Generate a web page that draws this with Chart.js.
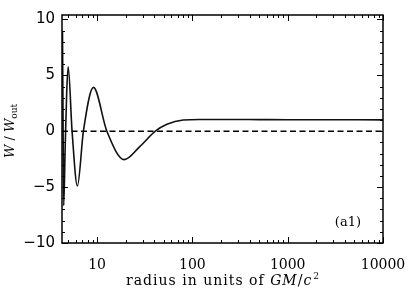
<!DOCTYPE html>
<html>
<head>
<meta charset="utf-8">
<script src="https://cdn.jsdelivr.net/npm/chart.js@4/dist/chart.umd.min.js"></script>
<style>
  html, body { margin: 0; padding: 0; background: #fff; }
  #wrap { width: 408px; height: 291px; }
</style>
</head>
<body>
<div id="wrap"><canvas id="myChart" width="408" height="291"></canvas></div>
<script>
// values
var radius = [4.33, 4.39, 4.46, 4.62, 4.80, 4.97, 5.46, 6.21, 7.18, 9.15, 12.66, 19.3, 28, 40.8, 54, 80, 120, 200, 500, 1000, 10000];
var wRatio = [9.0, 1.0, -6.65, -1.5, 3.6, 5.77, 0, -4.9, 0, 3.92, 0, -2.54, -1.38, 0, 0.62, 1.0, 1.05, 1.05, 1.04, 1.03, 1.02];
var zeroX = [4.28, 10000];
var zeroY = [0, 0];
var xTickLabels = [10, 100, 1000, 10000];
var yTickLabels = [-10, -5, 0, 5, 10];

var xMin = 4.28, xMax = 10000;
var yMin = -10, yMax = 10.4;

var curve = radius.map(function (r, i) { return { x: r, y: wRatio[i] }; });
var zero = zeroX.map(function (r, i) { return { x: r, y: zeroY[i] }; });

// frame and inward ticks, idl style
var framePlugin = {
    id: 'frame',
    afterDraw: function (chart) {
        var c = chart.ctx, a = chart.chartArea;
        var xs = chart.scales.x, ys = chart.scales.y;
        c.save();
        c.strokeStyle = '#000';
        c.lineWidth = 1.5;
        c.strokeRect(a.left, a.top, a.right - a.left, a.bottom - a.top);
        c.lineWidth = 1;
        c.beginPath();
        for (var k = 0; k <= 4; k++) {
            for (var m = 1; m <= 9; m++) {
                var v = m * Math.pow(10, k);
                if (v < xMin || v > xMax) continue;
                var px = Math.round(xs.getPixelForValue(v)) + 0.5;
                var len = m == 1 ? 6 : 3;
                c.moveTo(px, a.bottom); c.lineTo(px, a.bottom - len);
                c.moveTo(px, a.top); c.lineTo(px, a.top + len);
            }
        }
        for (var y = -10; y <= 10; y++) {
            var py = Math.round(ys.getPixelForValue(y)) + 0.5;
            var l2 = (y % 5 == 0) ? 6 : 3;
            c.moveTo(a.left, py); c.lineTo(a.left + l2, py);
            c.moveTo(a.right, py); c.lineTo(a.right - l2, py);
        }
        c.stroke();

        // x title, stretched to the width seen in the picture
        c.fillStyle = '#000';
        c.textBaseline = 'alphabetic';
        var parts = [
            { t: 'radius in units of ', f: '14px "DejaVu Serif"' },
            { t: 'GM', f: 'italic 14px "DejaVu Serif"' },
            { t: '/', f: '14px "DejaVu Serif"' },
            { t: 'c', f: 'italic 14px "DejaVu Serif"' }
        ];
        var total = 0, nch = 0;
        parts.forEach(function (p) { c.font = p.f; p.w = c.measureText(p.t).width; total += p.w; nch += p.t.length; });
        c.font = '9px "DejaVu Serif"';
        var supW = c.measureText('2').width;
        var ls = Math.max(0, Math.min(1.5, (193 - total - supW - 1) / nch));
        c.letterSpacing = ls + 'px';
        total = 0;
        parts.forEach(function (p) { c.font = p.f; p.w = c.measureText(p.t).width; total += p.w; });
        total += supW + 1;
        var tx = (a.left + a.right) / 2 - total / 2;
        parts.forEach(function (p) { c.font = p.f; c.fillText(p.t, tx, 285); tx += p.w; });
        c.font = '9px "DejaVu Serif"';
        c.fillText('2', tx + 1, 279);
        c.letterSpacing = '0px';

        // y title
        c.save();
        c.translate(14, 131);
        c.rotate(-Math.PI / 2);
        var yp = [
            { t: 'W', f: 'italic 13px "DejaVu Serif"', dy: 0 },
            { t: ' / ', f: '13px "DejaVu Serif"', dy: 0 },
            { t: 'W', f: 'italic 13px "DejaVu Serif"', dy: 0 },
            { t: 'out', f: '9px "DejaVu Serif"', dy: 3 }
        ];
        var tw = 0;
        yp.forEach(function (p) { c.font = p.f; p.w = c.measureText(p.t).width; tw += p.w; });
        var yx = -tw / 2;
        yp.forEach(function (p) { c.font = p.f; c.fillText(p.t, yx, p.dy); yx += p.w; });
        c.restore();

        // panel tag
        c.font = '13px "DejaVu Serif"';
        c.textAlign = 'right';
        c.textBaseline = 'middle';
        c.fillText('(a1)', 361, 223);
        c.restore();
    }
};

var chart_config = {
    type: 'line',
    data: {
        datasets: [{
            data: curve,
            borderColor: '#111',
            borderWidth: 1.6,
            pointRadius: 0,
            cubicInterpolationMode: 'monotone',
            fill: false
        }, {
            data: zero,
            borderColor: '#000',
            borderWidth: 1.3,
            borderDash: [6, 3.5],
            pointRadius: 0,
            fill: false
        }]
    },
    options: {
        responsive: false,
        animation: false,
        layout: { padding: { left: 0, right: 25, top: 15, bottom: 0 } },
        plugins: { legend: { display: false }, tooltip: { enabled: false } },
        scales: {
            x: {
                type: 'logarithmic',
                min: xMin,
                max: xMax,
                grid: { display: false, drawTicks: false },
                border: { display: false },
                afterFit: function (s) { s.height = 48; s.paddingLeft = 0; s.paddingRight = 0; },
                ticks: {
                    autoSkip: false,
                    maxRotation: 0,
                    padding: 14,
                    color: '#000',
                    font: { family: 'DejaVu Serif', size: 14 },
                    callback: function (v) {
                        return xTickLabels.indexOf(v) >= 0 ? String(v) : '';
                    }
                }
            },
            y: {
                min: yMin,
                max: yMax,
                grid: { display: false, drawTicks: false },
                border: { display: false },
                afterFit: function (s) { s.width = 62; s.paddingTop = 0; s.paddingBottom = 0; },
                afterBuildTicks: function (s) {
                    s.ticks = yTickLabels.map(function (v) { return { value: v }; });
                },
                ticks: {
                    padding: 7,
                    color: '#000',
                    font: { family: 'DejaVu Sans', size: 15 },
                    callback: function (v) { return v < 0 ? '\u2212' + Math.abs(v) : String(v); }
                }
            }
        }
    },
    plugins: [framePlugin]
};

var ctx = document.getElementById('myChart').getContext('2d');
var myLineChart = new Chart(ctx, chart_config);
</script>
</body>
</html>
